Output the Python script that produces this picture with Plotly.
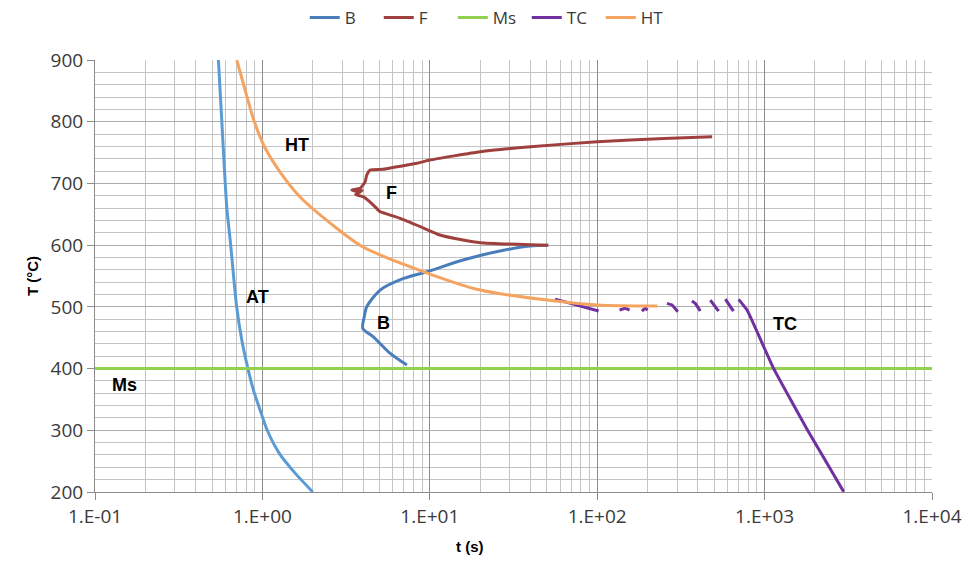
import math
import plotly.graph_objects as go

# ---------------- data ----------------
at_t = [0.546, 0.572, 0.6125, 0.6455, 0.701, 0.753, 0.818, 0.884, 0.969, 1.067, 1.259, 1.568, 2.0]
at_T = [900, 801.1, 661.7, 601.8, 501.3, 446.2, 400.8, 365.2, 332.8, 300.5, 263.1, 230.6, 200]

b_t = [51, 39.7, 25, 15.8, 9.6, 6.97, 5.05, 4.2, 4.06, 3.98, 4.6, 5.8, 7.3]
b_T = [599.7, 598.5, 589.3, 575.9, 556.9, 546, 527.2, 500.2, 484, 465, 451.5, 424.6, 405.7]

f_t = [486, 251, 100, 40, 20, 10, 8.38, 6.35, 5.28, 4.4, 4.2, 4.11, 3.84, 3.42, 3.67,
       3.95, 3.6, 4.0, 4.6, 5.05, 5.41, 6.65, 8.77, 11.5, 15.8, 20, 40, 51]
f_T = [775.7, 773, 767.6, 759.5, 751.4, 737.9, 732.6, 727, 722.8, 721.7, 713.6, 702.8, 692, 689.3, 686.6,
       688.5, 682, 678.5, 665, 654, 651.5, 643.4, 630, 616.4, 608.3, 604, 600.7, 600]

ms_t = [0.1, 10000]
ms_T = [400, 400]

tc_t = [56, 102, None, 136, 147, 156, None, 185, 194, 200, None, 261, 280, 303, None,
        368, 385, 413, None, 474, 520, 532, None, 583, 639, 653, None,
        700, 786, 1129, 1803, 2970]
tc_T = [512.6, 493.2, None, 494.8, 497.6, 494.8, None, 493, 497.6, 494.8, None, 505.7, 503, 492, None,
        509.4, 505.7, 493.2, None, 511, 496.4, 493.2, None, 512.5, 496.4, 493.2, None,
        512.2, 494.8, 400.8, 300.5, 200.3]

ht_t = [0.703, 0.788, 0.892, 1.038, 1.276, 1.68, 2.54, 4.0, 9.65, 20.0, 50.3, 100, 228.8]
ht_T = [900, 851.4, 801.1, 757.4, 718.5, 678, 635.8, 596.9, 554.8, 527.2, 511, 502.9, 501.3]

x_tickvals = [0.1, 1, 10, 100, 1000, 10000]
x_ticktext = ["1.E-01", "1.E+00", "1.E+01", "1.E+02", "1.E+03", "1.E+04"]

label_text = ["HT", "F", "AT", "B", "Ms", "TC"]
label_t = [1.61, 5.88, 0.94, 5.26, 0.151, 1330]
label_T = [762, 684, 516, 474, 373, 472]

# ---------------- figure ----------------
C_AT = "#5B9BD5"
C_B = "#4A7EBB"
C_F = "#A0403E"
C_MS = "#92D050"
C_TC = "#7030A0"
C_HT = "#F4A460"

fig = go.Figure()
fig.add_trace(go.Scatter(x=at_t, y=at_T, mode="lines",
                         line=dict(color=C_AT, width=3, shape="spline", smoothing=0.7),
                         showlegend=False, name="AT"))
fig.add_trace(go.Scatter(x=b_t, y=b_T, mode="lines",
                         line=dict(color=C_B, width=3, shape="spline", smoothing=0.8), name="B"))
fig.add_trace(go.Scatter(x=f_t, y=f_T, mode="lines",
                         line=dict(color=C_F, width=3, shape="spline", smoothing=0.4), name="F"))
fig.add_trace(go.Scatter(x=ms_t, y=ms_T, mode="lines", line=dict(color=C_MS, width=3), name="Ms"))
fig.add_trace(go.Scatter(x=tc_t, y=tc_T, mode="lines",
                         line=dict(color=C_TC, width=3, shape="spline", smoothing=0.3), name="TC",
                         connectgaps=False))
fig.add_trace(go.Scatter(x=ht_t, y=ht_T, mode="lines",
                         line=dict(color=C_HT, width=3, shape="spline", smoothing=0.8), name="HT"))

for txt, lt, lT in zip(label_text, label_t, label_T):
    fig.add_annotation(x=math.log10(lt), y=lT, xref="x", yref="y", text="<b>%s</b>" % txt,
                       showarrow=False,
                       font=dict(family="Liberation Sans, Arial", size=18, color="black"))

# x-axis title (placed left of centre as in the reference)
fig.add_annotation(x=0.448, y=-0.127, xref="paper", yref="paper", text="<b>t (s)</b>",
                   showarrow=False, xanchor="center", yanchor="middle",
                   font=dict(family="Liberation Sans, Arial", size=15, color="black"))

grid_c = "#C4C4C4"
tick_font = dict(family="Open Sans, Noto Sans", size=19, color="#3A3A3A")
fig.update_xaxes(type="log", range=[-1, 4], tickvals=x_tickvals, ticktext=x_ticktext,
                 showgrid=True, gridcolor="#8C8C8C", gridwidth=1,
                 minor=dict(dtick="D1", showgrid=True, gridcolor=grid_c, gridwidth=1, ticks=""),
                 showline=True, linecolor="#8C8C8C", linewidth=1,
                 ticks="outside", ticklen=7, tickcolor="#8C8C8C",
                 tickfont=tick_font, automargin=False,
                 zeroline=False)
fig.update_yaxes(range=[200, 900], dtick=100, showgrid=True, gridcolor="#ABABAB", gridwidth=1,
                 minor=dict(dtick=20, showgrid=True, gridcolor=grid_c, gridwidth=1, ticks=""),
                 showline=True, linecolor="#8C8C8C", linewidth=1,
                 ticks="outside", ticklen=7, tickcolor="#8C8C8C",
                 tickfont=tick_font, automargin=False,
                 title=dict(text="<b>T (°C)</b>", font=dict(family="Liberation Sans, Arial", size=15, color="black"),
                            standoff=8),
                 zeroline=False)

fig.update_layout(
    width=966, height=566,
    margin=dict(l=95, r=34, t=60, b=74, autoexpand=False),
    paper_bgcolor="white", plot_bgcolor="white",
    showlegend=True,
    legend=dict(orientation="h", x=0.507, xanchor="center", xref="container",
                y=1 - 18 / 566, yanchor="middle", yref="container",
                font=dict(family="Liberation Sans Narrow, Open Sans", size=17, color="#3A3A3A"),
                itemwidth=30, entrywidth=29, entrywidthmode="pixels",
                bgcolor="rgba(0,0,0,0)"),
)

fig.write_html("out.html", config={"displayModeBar": False},
               post_script="document.body.style.margin='0';")
